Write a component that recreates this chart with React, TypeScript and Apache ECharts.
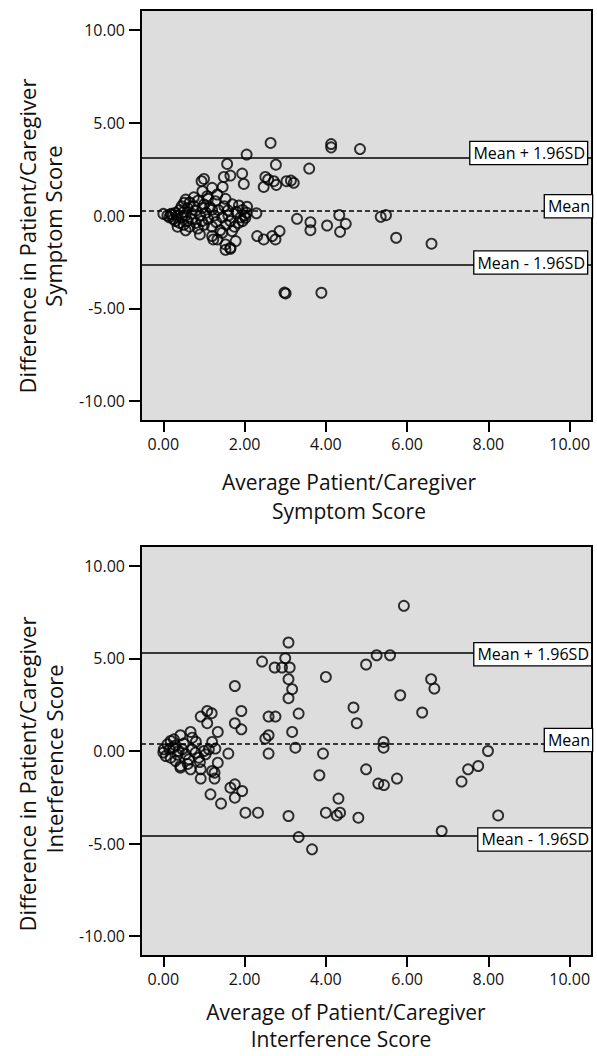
import React, { useEffect, useRef } from 'react';
import * as echarts from 'echarts';

// Tick values and labels
const xTicks = [0, 2, 4, 6, 8, 10];
const yTicks = [-10, -5, 0, 5, 10];

// Reference lines: [Mean + 1.96SD, Mean, Mean - 1.96SD]
const lineLabels = ['Mean + 1.96SD', 'Mean', 'Mean - 1.96SD'];
const symptomLimits = [3.1, 0.23, -2.64];
const interferenceLimits = [5.33, 0.38, -4.56];

// Symptom score: [average, difference]
const symptomPoints = [
  [2.64, 3.91], [4.13, 3.85], [4.13, 3.67], [4.84, 3.58], [2.05, 3.28], [1.57, 2.78], [2.77, 2.74],
  [3.59, 2.53], [1.94, 2.26], [1.65, 2.15], [1.49, 2.08], [2.51, 2.08], [2.58, 1.94], [2.72, 1.85],
  [2.47, 1.54], [2.78, 1.65], [3.03, 1.85], [3.14, 1.88], [3.21, 1.76], [1.98, 1.7], [1.0, 1.97],
  [0.94, 1.85], [1.46, 1.54], [1.2, 1.49], [0.96, 1.31], [1.08, 1.04], [1.33, 1.13], [0.75, 0.98],
  [0.55, 0.86], [0.51, 0.68], [1.53, 0.9], [1.28, 0.77], [1.2, 0.32], [0.96, 0.41], [1.86, 0.54],
  [1.59, 0.28], [2.06, 0.47], [2.05, 0.15], [2.02, -0.12], [2.29, 0.12], [0.0, 0.09], [0.18, 0.05],
  [3.29, -0.18], [3.62, -0.36], [3.62, -0.79], [4.33, 0.02], [4.49, -0.45], [4.03, -0.54], [4.35, -0.88],
  [5.35, -0.07], [5.48, 0.02], [5.73, -1.2], [6.6, -1.52], [3.89, -4.16], [2.98, -4.15], [3.01, -4.2],
  [2.31, -1.11], [2.47, -1.29], [2.68, -1.11], [2.76, -1.29], [2.86, -0.84], [1.65, -1.79], [1.53, -1.56],
  [1.78, -1.38], [1.23, -1.29], [0.9, -1.02], [1.2, -1.11], [1.33, -1.29], [1.45, -0.93], [1.69, -0.84],
  [1.53, -1.85], [1.65, -1.74],
  [0.1, 0.0], [0.15, -0.1], [0.2, 0.1], [0.25, -0.2], [0.3, 0.15], [0.3, -0.3], [0.35, 0.0], [0.4, -0.4],
  [0.4, 0.3], [0.45, -0.1], [0.5, 0.2], [0.5, -0.5], [0.55, 0.0], [0.6, -0.3], [0.6, 0.4], [0.65, -0.6],
  [0.7, 0.1], [0.7, -0.2], [0.75, 0.5], [0.8, -0.4], [0.8, 0.25], [0.85, -0.7], [0.9, 0.0], [0.95, -0.3],
  [1.0, 0.6], [1.0, -0.5], [1.05, 0.15], [1.1, -0.2], [1.15, 0.45], [1.2, -0.6], [1.25, 0.0], [1.3, -0.35],
  [1.35, 0.3], [1.4, -0.8], [1.45, -0.1], [1.5, 0.5], [1.55, -0.5], [1.6, 0.0], [1.65, -0.3], [1.7, 0.6],
  [1.75, -0.6], [1.8, 0.2], [1.85, -0.4], [1.9, -0.1], [1.95, 0.3], [1.95, -0.3], [2.0, 0.0], [0.55, -0.8],
  [0.65, 0.7], [0.85, 0.8], [1.1, 0.9], [0.45, 0.5], [0.35, -0.6],
];

// Interference score: [average, difference]
const interferencePoints = [
  [3.08, 5.86], [2.43, 4.83], [3.0, 5.01], [2.74, 4.51], [2.92, 4.51], [3.11, 4.51], [3.08, 3.88],
  [3.17, 3.34], [3.08, 2.85], [3.33, 2.02], [3.17, 1.03], [3.25, 0.18], [2.59, 1.86], [2.76, 1.86],
  [2.59, 0.85], [2.51, 0.67], [2.59, -0.14], [1.76, 3.51], [1.92, 2.16], [1.76, 1.5], [1.92, 1.17],
  [1.08, 2.16], [1.19, 2.04], [0.92, 1.86], [1.08, 1.5], [1.34, 1.03], [0.67, 1.03], [0.42, 0.85],
  [1.2, 0.49], [1.28, 0.13], [1.6, -0.14], [1.34, -0.63], [1.26, -1.17], [1.26, -1.49], [0.92, -0.99],
  [0.92, -1.49], [0.67, -0.99], [0.42, -0.81], [1.16, -2.34], [1.42, -2.84], [1.65, -1.98], [1.76, -1.8],
  [1.76, -2.52], [1.94, -2.16], [2.02, -3.33], [2.33, -3.33], [3.08, -3.51], [3.33, -4.65], [3.66, -5.31],
  [4.0, 4.0], [4.68, 2.35], [4.76, 1.5], [3.93, -0.14], [3.84, -1.31], [4.31, -2.57], [4.0, -3.33],
  [4.27, -3.48], [4.35, -3.33], [4.8, -3.6], [4.99, 4.67], [4.99, -0.99], [5.92, 7.84], [5.25, 5.17],
  [5.58, 5.17], [6.59, 3.88], [6.67, 3.37], [5.83, 3.01], [6.37, 2.08], [5.42, 0.49], [5.42, 0.18],
  [7.99, 0.0], [7.75, -0.81], [7.5, -0.99], [7.34, -1.65], [5.29, -1.76], [5.43, -1.84], [5.75, -1.49],
  [8.24, -3.48], [6.85, -4.32],
  [0.01, 0.09], [0.1, 0.36], [0.18, 0.54], [0.26, 0.63], [0.0, -0.08], [0.06, -0.27], [0.18, -0.36],
  [0.3, -0.54], [0.38, 0.0], [0.47, 0.09], [0.55, -0.18], [0.63, -0.45], [0.71, 0.09], [0.79, -0.09],
  [0.87, -0.36], [1.0, 0.0], [1.04, -0.18], [1.12, 0.09], [0.42, -0.9], [0.71, 0.72], [1.2, -1.08],
  [0.25, 0.2], [0.35, -0.2], [0.5, 0.4], [0.6, -0.7], [0.8, 0.5], [0.9, -0.6], [0.15, 0.1], [0.3, 0.3],
];

const FONT = '"Open Sans", sans-serif';
const TEXT = '#111';

function makeMarkLine(limits: number[], dists: number[][]) {
  return {
    silent: true,
    symbol: 'none',
    animation: false,
    data: limits.map((v, i) => ({
      yAxis: v,
      lineStyle: {
        color: '#000',
        width: 1.5,
        type: i === 1 ? [5, 3] : 'solid',
      },
      label: {
        show: true,
        position: 'insideEndTop',
        distance: dists[i],
        formatter: lineLabels[i],
        color: '#000',
        fontFamily: FONT,
        fontSize: 16,
        lineHeight: 20,
        backgroundColor: '#fff',
        borderColor: '#000',
        borderWidth: 1.3,
        padding: [1, 2, 1, 3],
      },
    })),
  };
}

function axisX(gridIndex: number) {
  return {
    type: 'value',
    gridIndex,
    min: -0.55,
    max: 10.55,
    splitLine: { show: false },
    axisLine: { show: false, onZero: false },
    axisTick: { show: true, customValues: xTicks, length: 11, inside: false, lineStyle: { color: '#000', width: 2 } },
    axisLabel: {
      customValues: xTicks,
      formatter: (v: number) => v.toFixed(2),
      color: TEXT,
      fontFamily: FONT,
      fontSize: 16,
      margin: 15,
    },
  };
}

function axisY(gridIndex: number) {
  return {
    type: 'value',
    gridIndex,
    min: -11.07,
    max: 11.07,
    splitLine: { show: false },
    axisLine: { show: false, onZero: false },
    axisTick: { show: true, customValues: yTicks, length: 12, inside: false, lineStyle: { color: '#000', width: 2 } },
    axisLabel: {
      customValues: yTicks,
      formatter: (v: number) => v.toFixed(2),
      color: TEXT,
      fontFamily: FONT,
      fontSize: 16,
      margin: 16,
    },
  };
}

function titleText(text: string, x: number, y: number, rot = 0, size = 22) {
  return {
    type: 'text',
    x,
    y,
    rotation: rot,
    silent: true,
    style: {
      text,
      fill: TEXT,
      fontFamily: FONT,
      fontSize: size,
      align: 'center',
      verticalAlign: 'middle',
    },
  };
}

export default function App() {
  const ref = useRef<HTMLDivElement>(null);

  useEffect(() => {
    if (!ref.current) return;
    const chart = echarts.init(ref.current, null, { renderer: 'svg' });
    const scatterStyle = {
      symbol: 'circle',
      symbolSize: 10,
      itemStyle: { color: 'rgba(0,0,0,0)', borderColor: '#000', borderWidth: 1.9 },
      silent: true,
    };
    chart.setOption({
      animation: false,
      backgroundColor: '#fff',
      grid: [
        { left: 141, top: 10, width: 451, height: 411, show: true, backgroundColor: '#dddddd', borderColor: '#000', borderWidth: 2 },
        { left: 141, top: 546, width: 451, height: 410, show: true, backgroundColor: '#dddddd', borderColor: '#000', borderWidth: 2 },
      ],
      xAxis: [axisX(0), axisX(1)],
      yAxis: [axisY(0), axisY(1)],
      series: [
        {
          type: 'scatter',
          xAxisIndex: 0,
          yAxisIndex: 0,
          data: symptomPoints,
          ...scatterStyle,
          markLine: makeMarkLine(symptomLimits, [[5, -6], [0, -6], [5, -9]]),
        },
        {
          type: 'scatter',
          xAxisIndex: 1,
          yAxisIndex: 1,
          data: interferencePoints,
          ...scatterStyle,
          markLine: makeMarkLine(interferenceLimits, [[1, -13], [0, -7], [1, -15]]),
        },
      ],
      graphic: [
        titleText('Average Patient/Caregiver', 349, 482, 0, 21),
        titleText('Symptom Score', 349, 511, 0, 21),
        titleText('Average of Patient/Caregiver', 346, 1012, 0, 21),
        titleText('Interference Score', 341, 1039, 0, 21),
        titleText('Difference in Patient/Caregiver', 27, 236, Math.PI / 2),
        titleText('Symptom Score', 53, 226, Math.PI / 2),
        titleText('Difference in Patient/Caregiver', 27, 774, Math.PI / 2),
        titleText('Interference Score', 54, 759, Math.PI / 2),
      ],
    });
    return () => chart.dispose();
  }, []);

  return (
    <div
      ref={ref}
      style={{ position: 'absolute', left: 0, top: 0, width: 597, height: 1056, background: '#fff' }}
    />
  );
}
